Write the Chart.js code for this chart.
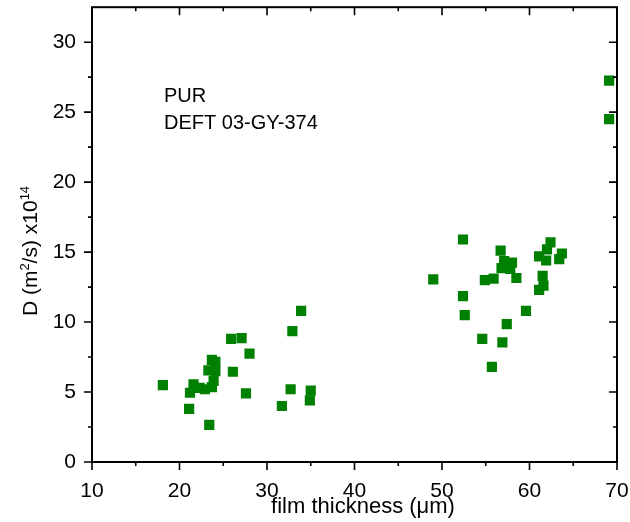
<!DOCTYPE html>
<html>
<head>
<meta charset="utf-8">
<script src="https://cdn.jsdelivr.net/npm/chart.js@4.4.1/dist/chart.umd.min.js"></script>
<style>
  html, body { margin: 0; padding: 0; background: #fff; }
  #wrap { width: 630px; height: 522px; }
</style>
</head>
<body>
<div id="wrap"><canvas id="grafico"></canvas></div>
<script>
// espesor de película (µm) y coeficiente de difusión D (x10^14 m2/s)
const espesor = [
  18.1, 21.1, 21.2, 21.6, 22.3, 22.9, 23.7, 23.9, 23.4, 23.3, 23.7, 24.1, 24.1,
  25.9, 27.1, 28.0, 26.1, 27.6, 33.9, 32.9, 32.7, 31.7, 35.0, 34.9,
  49.0, 52.4, 56.7, 57.1, 58.0, 56.8, 57.8, 58.5, 54.9, 55.9, 52.4, 52.6,
  59.6, 57.4, 54.6, 56.9, 55.7, 62.4, 62.0, 61.1, 61.9, 63.7, 63.4, 61.5,
  61.6, 61.1, 69.1, 69.1
];
const difusion = [
  5.5, 3.8, 4.95, 5.55, 5.3, 5.2, 5.35, 5.8, 2.65, 6.55, 7.3, 7.15, 6.5,
  8.8, 8.85, 7.75, 6.45, 4.9, 10.8, 9.35, 5.2, 4.0, 5.1, 4.4,
  13.05, 15.9, 15.1, 14.35, 14.25, 13.85, 13.8, 13.15, 13.0, 13.1, 11.85, 10.5,
  10.8, 9.85, 8.8, 8.55, 6.8, 15.7, 15.2, 14.7, 14.4, 14.9, 14.5, 13.3,
  12.6, 12.3, 27.25, 24.5
];
const ticksX = [10, 20, 30, 40, 50, 60, 70];
const ticksY = [0, 5, 10, 15, 20, 25, 30];
const menoresX = [15, 25, 35, 45, 55, 65];
const menoresY = [2.5, 7.5, 12.5, 17.5, 22.5, 27.5];

const puntos = espesor.map(function (x, i) {
  return { x: x, y: difusion[i] };
});

const fuente = '"Liberation Sans", Arial, sans-serif';

// quitar el relleno automático que Chart.js añade por las etiquetas
function sinRelleno(s) {
  s.paddingLeft = 0;
  s.paddingRight = 0;
  s.paddingTop = 0;
  s.paddingBottom = 0;
}

// Plugin para el marco, las marcas de los ejes y los textos
const marcoPlugin = {
  id: 'marco',
  afterDraw: function (chart) {
    const ctx = chart.ctx;
    const a = chart.chartArea;
    const sx = chart.scales.x;
    const sy = chart.scales.y;
    ctx.save();
    ctx.strokeStyle = '#000';
    ctx.lineWidth = 2;
    ctx.strokeRect(a.left, a.top, a.right - a.left, a.bottom - a.top);

    ctx.lineWidth = 1.6;
    ctx.beginPath();
    ticksX.concat(menoresX).forEach(function (v) {
      const px = sx.getPixelForValue(v);
      const l = menoresX.indexOf(v) >= 0 ? 4 : 8;
      ctx.moveTo(px, a.bottom); ctx.lineTo(px, a.bottom + l);
      ctx.moveTo(px, a.top); ctx.lineTo(px, a.top + l);
    });
    ticksY.concat(menoresY).forEach(function (v) {
      const py = sy.getPixelForValue(v);
      const l = menoresY.indexOf(v) >= 0 ? 4 : 8;
      ctx.moveTo(a.left, py); ctx.lineTo(a.left - l, py);
      ctx.moveTo(a.right, py); ctx.lineTo(a.right - l, py);
    });
    ctx.stroke();

    // textos de la muestra
    ctx.fillStyle = '#000';
    ctx.font = '20px ' + fuente;
    ctx.textAlign = 'left';
    ctx.textBaseline = 'alphabetic';
    ctx.fillText('PUR', 164, 101.5);
    ctx.fillText('DEFT 03-GY-374', 164, 128.5);

    // título del eje X
    ctx.font = '22px ' + fuente;
    ctx.textAlign = 'center';
    ctx.fillText('film thickness (\u03bcm)', 363, 513);

    // título del eje Y con superíndices
    ctx.textAlign = 'left';
    ctx.translate(37, 251);
    ctx.rotate(-Math.PI / 2);
    const fN = '21px ' + fuente;
    const fS = '13px ' + fuente;
    const partes = [['D (m', false], ['2', true], ['/s) x10', false], ['14', true]];
    let total = 0;
    partes.forEach(function (p) {
      ctx.font = p[1] ? fS : fN;
      total += ctx.measureText(p[0]).width;
    });
    let x = -total / 2;
    partes.forEach(function (p) {
      ctx.font = p[1] ? fS : fN;
      ctx.fillText(p[0], x, p[1] ? -8 : 0);
      x += ctx.measureText(p[0]).width;
    });
    ctx.restore();
  }
};

new Chart(document.getElementById('grafico'), {
  type: 'scatter',
  data: {
    datasets: [{
      data: puntos,
      pointStyle: 'rect',
      pointRadius: 7.2,
      pointHoverRadius: 7.2,
      backgroundColor: '#008000',
      borderWidth: 0
    }]
  },
  options: {
    responsive: true,
    maintainAspectRatio: false,
    animation: false,
    layout: { padding: { top: 6, right: 13, left: 0, bottom: 0 } },
    plugins: {
      legend: { display: false },
      tooltip: { enabled: false }
    },
    scales: {
      x: {
        type: 'linear',
        min: 10,
        max: 70,
        afterBuildTicks: function (s) { s.ticks = ticksX.map(function (v) { return { value: v }; }); },
        afterFit: function (s) { s.height = 60; sinRelleno(s); },
        grid: { display: false, drawTicks: false },
        border: { display: false },
        ticks: {
          padding: 17,
          color: '#000',
          maxRotation: 0,
          font: { family: fuente, size: 21 }
        }
      },
      y: {
        type: 'linear',
        min: 0,
        max: 32.5,
        afterBuildTicks: function (s) { s.ticks = ticksY.map(function (v) { return { value: v }; }); },
        afterFit: function (s) { s.width = 92; sinRelleno(s); },
        grid: { display: false, drawTicks: false },
        border: { display: false },
        ticks: {
          padding: 16,
          color: '#000',
          font: { family: fuente, size: 21 }
        }
      }
    }
  },
  plugins: [marcoPlugin]
});
</script>
</body>
</html>
